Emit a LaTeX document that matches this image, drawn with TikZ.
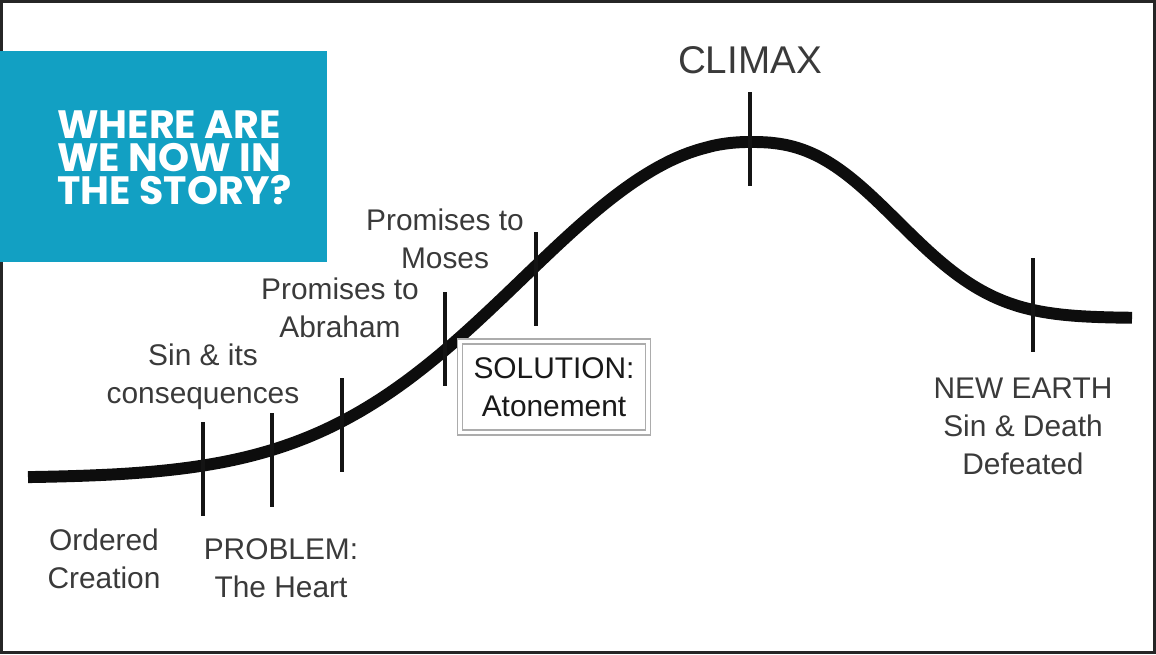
\documentclass[tikz,border=0pt]{standalone}
\usepackage{fontspec}
\setmainfont{Liberation Sans}
\newfontfamily\storyfont{Poppins}
\usetikzlibrary{shadows}
\definecolor{storyblue}{HTML}{12A0C3}
\definecolor{labelgray}{HTML}{3A3A3A}
\tikzset{
  labeltext/.style={text=labelgray, align=center, font=\fontsize{17}{21.6}\selectfont},
  tickline/.style={line width=1.8pt, black!92},
  arc line/.style={line width=6.8pt, black!95, line join=round},
}

\begin{document}
\begin{tikzpicture}[x=0.02cm,y=-0.02cm]
\useasboundingbox (0,0) rectangle (1156,654);
\draw[line width=1.6pt, black!85] (1.5,1.5) rectangle (1154.5,652.5);

\fill[storyblue] (0,51) rectangle (327,262);
\node[anchor=west, text=white, align=left, inner sep=0pt,
  font=\storyfont\bfseries\fontsize{22.5}{18.8}\selectfont] (title) at (57,158)
  {WHERE ARE\\WE NOW IN\\THE STORY?};

\coordinate (fall) at (203,472);
\coordinate (problem) at (272,458);
\coordinate (abraham) at (342,420);
\coordinate (moses) at (445,342);
\coordinate (solution) at (536,264);
\coordinate (climax) at (750,142);
\coordinate (newearth) at (1033,310);
\draw[arc line] plot[domain=28:749, samples=120]
    (\x, {478-336*exp(0-pow((750-\x)/310,2.1))})
  -- plot[domain=751:1132, samples=100]
    (\x, {318-176*exp(0-pow((\x-750)/181,2.52))});
\foreach \p/\t in {fall/422, problem/413, abraham/378, moses/292,
  solution/232, climax/92, newearth/258}{
  \draw[tickline] (\p |- 0,\t) -- ++(0,94);
}

\node[labeltext] (creationtext) at (104,559) {Ordered\\Creation};
\node[labeltext] (problemtext) at (281,568) {PROBLEM:\\The Heart};
\node[labeltext] (sintext) at (203,377) {Sin \& its\\consequences};
\node[labeltext] (abrahamtext) at (340,308) {Promises to\\Abraham};
\node[labeltext] (mosestext) at (445,239) {Promises to\\Moses};
\node[labeltext, font=\fontsize{22}{26}\selectfont] (climaxtext) at (750,60) {CLIMAX};
\node[labeltext] (earthtext) at (1023,426) {NEW EARTH\\Sin \& Death\\Defeated};

\node[labeltext, text=black!90, draw=gray!65, double=white, double distance=2.2pt,
  line width=0.7pt, fill=white, minimum width=3.75cm, minimum height=1.82cm,
  drop shadow={opacity=0.25, shadow xshift=0.6pt, shadow yshift=-1.8pt}]
  (atonement) at (554,387) {SOLUTION:\\Atonement};
\end{tikzpicture}
\end{document}
